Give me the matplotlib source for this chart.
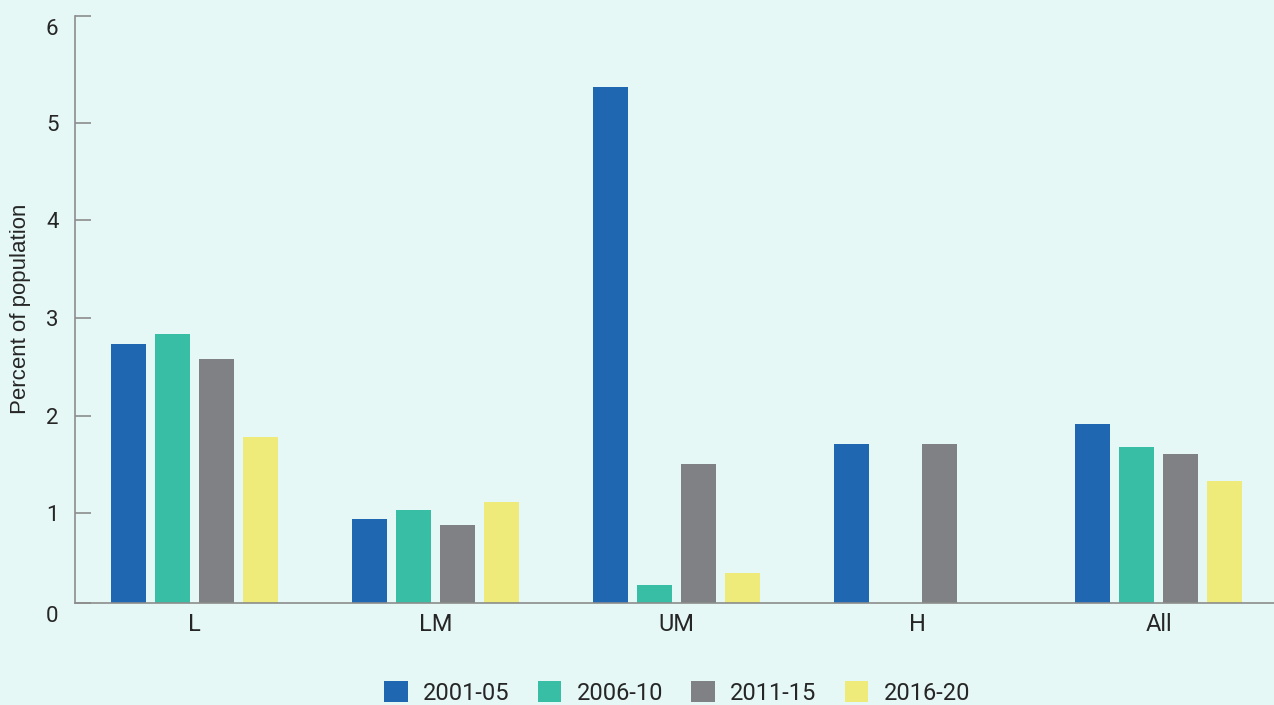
import numpy as np
import matplotlib.pyplot as plt
import matplotlib.transforms as mtransforms

# data
groups = ["L", "LM", "UM", "H", "All"]
periods = ["2001-05", "2006-10", "2011-15", "2016-20"]
v_2001_05 = [2.73, 0.94, 5.37, 1.71, 1.91]
v_2006_10 = [2.84, 1.03, 0.27, np.nan, 1.68]
v_2011_15 = [2.58, 0.88, 1.51, 1.71, 1.61]
v_2016_20 = [1.78, 1.12, 0.39, np.nan, 1.33]
series = [v_2001_05, v_2006_10, v_2011_15, v_2016_20]
colors = ["#1f67b1", "#38bea5", "#808184", "#eeeb7a"]

bg = "#e5f8f6"
axis_col = "#8c8c8c"
text_col = "#262626"

plt.rcParams["font.family"] = ["Roboto", "DejaVu Sans"]

fig = plt.figure(figsize=(12.74, 7.05), dpi=100, facecolor=bg)
ax = fig.add_axes([0.0589, 0.1447, 0.9411, 0.8333])
ax.set_facecolor(bg)

x = np.arange(len(groups))
width = 0.145
step = 0.1826
for i, (vals, col, lab) in enumerate(zip(series, colors, periods)):
    ax.bar(x + (i - 1.5) * step, vals, width=width, color=col, label=lab, zorder=2)

ax.set_xlim(-0.496, 4.479)
ax.set_ylim(0.081, 6.10)
ax.set_xticks(x, groups)
ax.set_yticks([0.081, 1, 2, 3, 4, 5, 6.10], ["0", "1", "2", "3", "4", "5", "6"])

for s in ["top", "right"]:
    ax.spines[s].set_visible(False)
for s in ["left", "bottom"]:
    ax.spines[s].set_color(axis_col)
    ax.spines[s].set_linewidth(1.2)

ax.tick_params(axis="y", direction="in", length=11.5, width=1.2, color=axis_col,
               pad=12, labelsize=16, labelcolor=text_col)
ax.tick_params(axis="x", length=0, pad=7, labelsize=17, labelcolor=text_col)

# end labels sit a little below their tick marks in the original
shift = mtransforms.ScaledTranslation(0, -8 / 72, fig.dpi_scale_trans)
ylabels = ax.get_yticklabels()
for lbl in (ylabels[0], ylabels[-1]):
    lbl.set_transform(lbl.get_transform() + shift)

ax.set_ylabel("Percent of population", fontsize=16, color=text_col,
              family=["Liberation Sans", "DejaVu Sans"])
ax.yaxis.set_label_coords(-0.037, 0.5)

fig.legend(loc="center", bbox_to_anchor=(0.5315, 0.017), ncol=4, frameon=False,
           fontsize=17, handlelength=1.0, handleheight=1.0, handletextpad=0.64,
           columnspacing=1.2, labelcolor=text_col)

fig.savefig("out.png", dpi=100, facecolor=bg)
